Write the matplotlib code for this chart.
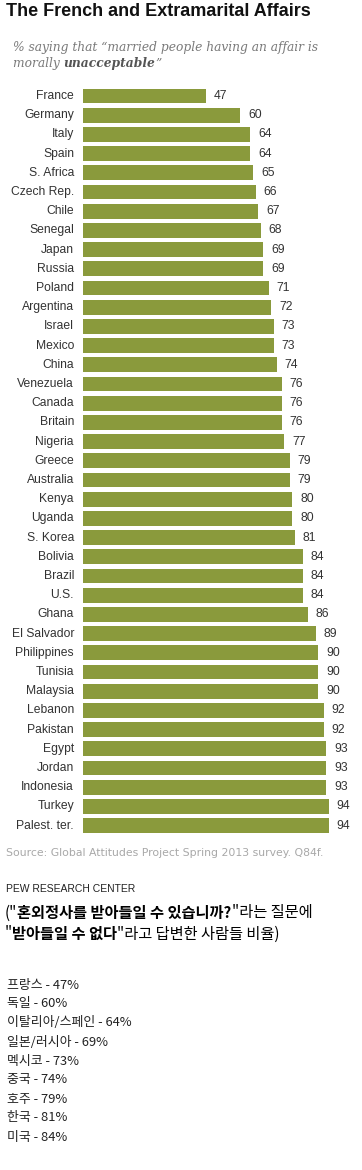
import matplotlib
matplotlib.use('Agg')
import matplotlib.pyplot as plt

# ── Data ──
countries = ['France', 'Germany', 'Italy', 'Spain', 'S. Africa', 'Czech Rep.', 'Chile',
             'Senegal', 'Japan', 'Russia', 'Poland', 'Argentina', 'Israel', 'Mexico',
             'China', 'Venezuela', 'Canada', 'Britain', 'Nigeria', 'Greece', 'Australia',
             'Kenya', 'Uganda', 'S. Korea', 'Bolivia', 'Brazil', 'U.S.', 'Ghana',
             'El Salvador', 'Philippines', 'Tunisia', 'Malaysia', 'Lebanon', 'Pakistan',
             'Egypt', 'Jordan', 'Indonesia', 'Turkey', 'Palest. ter.']
values = [47, 60, 64, 64, 65, 66, 67, 68, 69, 69, 71, 72, 73, 73, 74, 76, 76, 76, 77,
          79, 79, 80, 80, 81, 84, 84, 84, 86, 89, 90, 90, 90, 92, 92, 93, 93, 93, 94, 94]

korean_list = ['프랑스 - 47%', '독일 - 60%', '이탈리아/스페인 - 64%', '일본/러시아 - 69%',
               '멕시코 - 73%', '중국 - 74%', '호주 - 79%', '한국 - 81%', '미국 - 84%']

W, H = 362, 1170
BAR = '#8A9A3C'
KR = ['Noto Sans CJK KR', 'DejaVu Sans']

fig = plt.figure(figsize=(W / 100, H / 100), dpi=100)
fig.patch.set_facecolor('white')

def fy(px):
    return 1 - px / H

# axes: x=0 at 83px, 100 units = 261.5px; rows 19.2px apart, first centre at 96px
row = 19.2
top = 96 - row / 2
bottom = 96 + (len(countries) - 0.5) * row
ax = fig.add_axes([83 / W, 1 - bottom / H, 261.5 / W, (bottom - top) / H])
y = list(range(len(countries)))
ax.barh(y, values, height=0.78, color=BAR)
ax.set_xlim(0, 100)
ax.set_ylim(len(countries) - 0.5, -0.5)
ax.axis('off')

for i, (c, v) in enumerate(zip(countries, values)):
    ax.annotate(c, xy=(0, i), xytext=(-9, 0), textcoords='offset pixels',
                ha='right', va='center', fontsize=8.7, color='#333333',
                family='Liberation Sans')
    ax.annotate(str(v), xy=(v, i), xytext=(8, 0), textcoords='offset pixels',
                ha='left', va='center', fontsize=8.7, color='#333333',
                family='Liberation Sans')

# ── Title / subtitle ──
fig.text(6 / W, fy(12), 'The French and Extramarital Affairs', fontsize=13,
         fontweight='bold', family='Liberation Sans', va='center', ha='left', color='#111111')
sub_kw = dict(fontsize=8.8, style='italic', family='DejaVu Serif', va='center')
fig.text(13 / W, fy(47), '% saying that \u201cmarried people having an affair is',
         color='#7a7a7a', **sub_kw)
t1 = fig.text(13 / W, fy(64), 'morally ', color='#7a7a7a', **sub_kw)
t2 = fig.text(0, 0, 'unacceptable', color='#555555', fontweight='bold', **sub_kw)
t3 = fig.text(0, 0, '\u201d', color='#7a7a7a', **sub_kw)

# ── Source ──
fig.text(6 / W, fy(853), 'Source: Global Attitudes Project Spring 2013 survey. Q84f.',
         fontsize=7.8, color='#a8a8a8', family='DejaVu Sans', va='center')
fig.text(6 / W, fy(889), 'PEW RESEARCH CENTER', fontsize=7.5, color='#222222',
         family='Liberation Sans', va='center')

# ── Korean note ──
def make_line(x, ypx, parts, size):
    out = []
    for k, (txt, bold) in enumerate(parts):
        pos = (x / W, fy(ypx)) if k == 0 else (0, 0)
        out.append(fig.text(pos[0], pos[1], txt, fontsize=size, family=KR,
                            fontweight='bold' if bold else 'normal',
                            va='center', color='black'))
    return out

line1 = make_line(5, 913, [('("', False), ('혼외정사를 받아들일 수 있습니까?', True),
                          ('"라는 질문에', False)], 11)
line2 = make_line(5, 934, [('"', False), ('받아들일 수 없다', True),
                          ('"라고 답변한 사람들 비율)', False)], 11)

for i, s in enumerate(korean_list):
    fig.text(7 / W, fy(985 + i * 19), s, fontsize=9.3, family=KR, va='center',
             color='#222222')

# place chained texts right after the previous piece
fig.canvas.draw()
r = fig.canvas.get_renderer()
inv = fig.transFigure.inverted()

def place_after(prev, cur):
    bb = prev.get_window_extent(r)
    px, py = prev.get_transform().transform(prev.get_position())
    cur.set_position(inv.transform((bb.x1, py)))

place_after(t1, t2)
place_after(t2, t3)
for line in (line1, line2):
    for a, b in zip(line[:-1], line[1:]):
        place_after(a, b)

fig.savefig('out.png', dpi=100, facecolor='white')
